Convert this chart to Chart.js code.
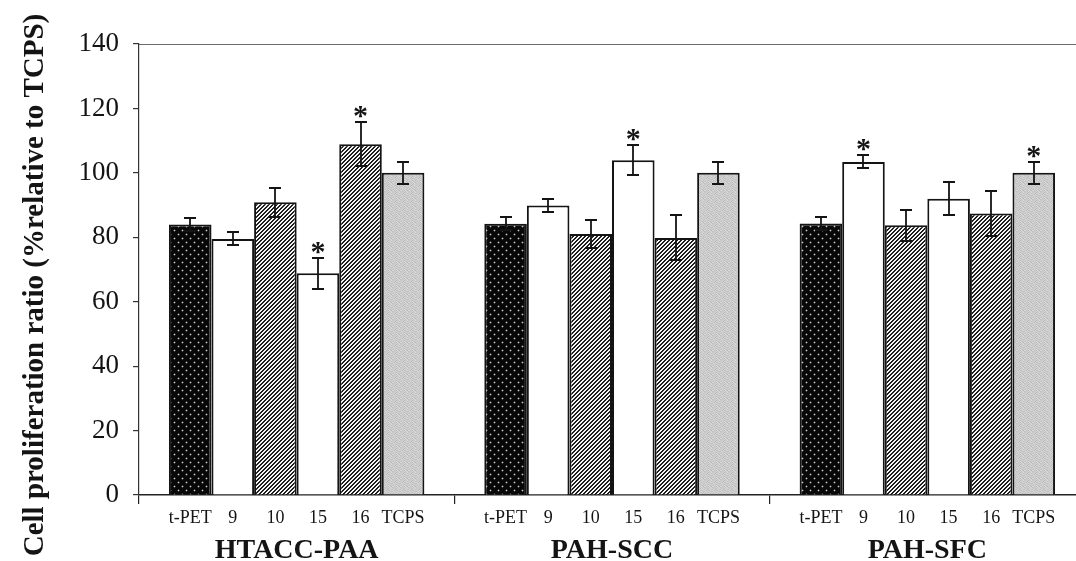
<!DOCTYPE html>
<html>
<head>
<meta charset="utf-8">
<script src="https://cdn.jsdelivr.net/npm/chart.js@4/dist/chart.umd.min.js"></script>
<style>
  html, body { margin: 0; padding: 0; background: #fff; overflow: hidden; }
  #wrap { position: absolute; left: 0; top: 0; width: 1095px; height: 561px; }
</style>
</head>
<body>
<div id="wrap"><canvas id="c"></canvas></div>
<script>
// Copolymer surfaces and the samples measured on each
const groups = ['HTACC-PAA', 'PAH-SCC', 'PAH-SFC'];
const samples = ['t-PET', '9', '10', '15', '16', 'TCPS'];
const yTicks = [0, 20, 40, 60, 80, 100, 120, 140];

// Mean cell proliferation ratio (% relative to TCPS), one value per group
const meanTPET = [84.0, 84.2, 84.3];
const mean9    = [79.5, 89.9, 103.4];
const mean10   = [90.9, 81.0, 83.7];
const mean15   = [68.8, 103.9, 92.0];
const mean16   = [108.9, 79.8, 87.4];
const meanTCPS = [100.0, 100.0, 100.0];

// Standard deviations
const sdTPET = [2.0, 2.0, 2.0];
const sd9    = [2.0, 2.0, 2.0];
const sd10   = [4.5, 4.4, 4.8];
const sd15   = [4.7, 4.7, 5.1];
const sd16   = [6.8, 7.0, 7.0];
const sdTCPS = [3.5, 3.5, 3.4];

// Statistically significant differences (marked with *)
const sigTPET = [false, false, false];
const sig9    = [false, false, true];
const sig10   = [false, false, false];
const sig15   = [true, true, false];
const sig16   = [true, false, false];
const sigTCPS = [false, false, true];

const means = [meanTPET, mean9, mean10, mean15, mean16, meanTCPS];
const sds = [sdTPET, sd9, sd10, sd15, sd16, sdTCPS];
const sigs = [sigTPET, sig9, sig10, sig15, sig16, sigTCPS];

const SERIF = "'Liberation Serif', 'Times New Roman', serif";
const INK = '#141414';

const canvas = document.getElementById('c');
const ctx = canvas.getContext('2d');

// Build a repeating fill from a per-pixel grey function
function tile(w, h, shade) {
  const c = document.createElement('canvas');
  c.width = w; c.height = h;
  const t = c.getContext('2d');
  const img = t.createImageData(w, h);
  for (let y = 0; y < h; y++) {
    for (let x = 0; x < w; x++) {
      const v = shade(x, y);
      const k = (y * w + x) * 4;
      img.data[k] = v; img.data[k + 1] = v; img.data[k + 2] = v; img.data[k + 3] = 255;
    }
  }
  t.putImageData(img, 0, 0);
  return ctx.createPattern(c, 'repeat');
}

// black with a staggered lattice of small light dots
const dotted = tile(8, 8, (x, y) => {
  if ((x === 2 && y === 2) || (x === 6 && y === 6)) return 205;
  const near = (Math.abs(x - 2) + Math.abs(y - 2) === 1) || (Math.abs(x - 6) + Math.abs(y - 6) === 1);
  return near ? 70 : 8;
});
// fine forward-slash hatching
const hatched = tile(4, 4, (x, y) => ((x + y) % 4 < 2 ? 30 : 245));
// light grey speckle
const speck = [
  [206, 192, 214, 202, 188, 210, 198, 216],
  [196, 218, 200, 182, 212, 204, 220, 192],
  [214, 202, 190, 216, 198, 186, 206, 210],
  [188, 210, 220, 196, 208, 218, 194, 202],
  [218, 198, 204, 212, 184, 200, 214, 190],
  [200, 186, 216, 192, 220, 206, 188, 212],
  [210, 220, 194, 206, 196, 214, 202, 184],
  [192, 204, 208, 188, 216, 194, 218, 206]
];
const speckled = tile(8, 8, (x, y) => speck[y][x]);

const fills = [dotted, '#ffffff', hatched, '#ffffff', hatched, speckled];

const datasets = samples.map((name, i) => ({
  label: name,
  data: means[i],
  backgroundColor: fills[i],
  borderColor: INK,
  borderWidth: 2,
  categoryPercentage: 0.81,
  barPercentage: 1.0
}));

// Error bars, significance stars, sample labels, frame line and axis title
const annotate = {
  id: 'annotate',
  afterDatasetsDraw(chart) {
    const c = chart.ctx;
    const y = chart.scales.y;
    c.save();
    c.strokeStyle = INK;
    c.fillStyle = INK;
    c.lineWidth = 1.8;
    chart.data.datasets.forEach((ds, i) => {
      const meta = chart.getDatasetMeta(i);
      meta.data.forEach((bar, j) => {
        const m = means[i][j], s = sds[i][j];
        const yt = Math.round(y.getPixelForValue(m + s));
        const yb = Math.round(y.getPixelForValue(m - s));
        const x = Math.round(bar.x);
        c.beginPath();
        c.moveTo(x, yt); c.lineTo(x, yb);
        c.moveTo(x - 6, yt); c.lineTo(x + 6, yt);
        c.moveTo(x - 6, yb); c.lineTo(x + 6, yb);
        c.stroke();
        if (sigs[i][j]) {
          c.font = 'bold 30px ' + SERIF;
          c.textAlign = 'center';
          c.textBaseline = 'alphabetic';
          c.fillText('*', bar.x, yt + 3);
        }
      });
    });
    c.restore();
  },
  afterDraw(chart) {
    const c = chart.ctx;
    const area = chart.chartArea;
    c.save();
    // frame line along the top of the plot
    c.strokeStyle = '#6a6a6a';
    c.lineWidth = 1.2;
    c.beginPath();
    c.moveTo(area.left, area.top + 0.5);
    c.lineTo(chart.width, area.top + 0.5);
    c.stroke();
    // sample names under each bar
    c.fillStyle = INK;
    c.font = '18px ' + SERIF;
    c.textAlign = 'center';
    c.textBaseline = 'middle';
    chart.data.datasets.forEach((ds, i) => {
      chart.getDatasetMeta(i).data.forEach(bar => {
        c.fillText(samples[i], bar.x, 518);
      });
    });
    // y-axis title
    c.translate(36, 285);
    c.rotate(-Math.PI / 2);
    c.font = 'bold 29px ' + SERIF;
    c.fillText('Cell proliferation ratio (%relative to TCPS)', 0, 0);
    c.restore();
  }
};

new Chart(canvas, {
  type: 'bar',
  data: { labels: groups, datasets },
  options: {
    responsive: true,
    maintainAspectRatio: false,
    animation: false,
    layout: { padding: { top: 44, right: 10, left: 0, bottom: 0 } },
    plugins: { legend: { display: false }, tooltip: { enabled: false } },
    scales: {
      x: {
        grid: { drawOnChartArea: false, offset: true, tickLength: 9, color: '#222', lineWidth: 1.2 },
        border: { color: '#222', width: 1.5 },
        ticks: { color: INK, padding: 30, font: { family: SERIF, size: 28, weight: 'bold' } },
        afterFit(scale) { scale.height = 66; }
      },
      y: {
        min: 0,
        max: 140,
        afterBuildTicks(scale) { scale.ticks = yTicks.map(v => ({ value: v })); },
        grid: { drawOnChartArea: false, tickLength: 6, color: '#333', lineWidth: 1.2 },
        border: { color: '#333', width: 1.2 },
        ticks: { color: INK, padding: 14, font: { family: SERIF, size: 27 } },
        afterFit(scale) { scale.width = 139; }
      }
    }
  },
  plugins: [annotate]
});
</script>
</body>
</html>
